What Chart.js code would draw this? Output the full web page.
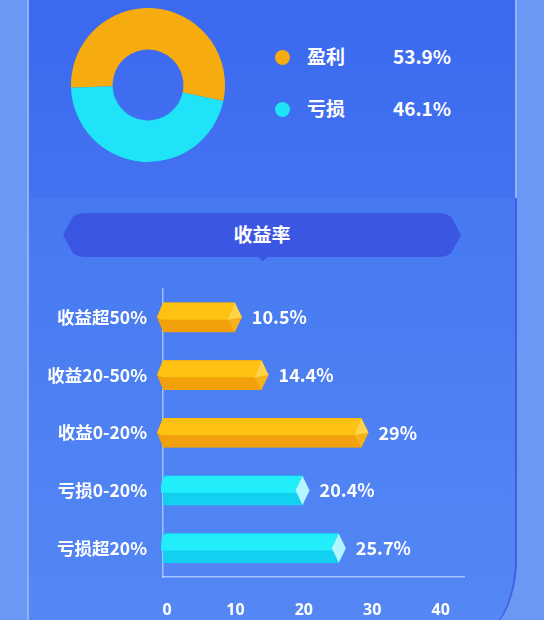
<!DOCTYPE html>
<html><head><meta charset="utf-8">
<script src="https://cdn.jsdelivr.net/npm/chart.js@4.4.1/dist/chart.umd.min.js"></script>
<style>
html,body{margin:0;padding:0;width:544px;height:620px;overflow:hidden;font-family:"Noto Sans CJK SC","Noto Sans",sans-serif;}
#bg{position:absolute;left:0;top:0;width:544px;height:620px;background:#6a98f4;}
#panelTop{position:absolute;left:27px;top:0;width:490px;height:200px;background:linear-gradient(180deg,#3b69ef 0%,#4372f1 100%);border-left:2px solid #8db4fb;border-right:2px solid #8db4fb;box-sizing:border-box;}
#panelBot{position:absolute;left:27px;top:198px;width:490px;height:440px;background:linear-gradient(180deg,#4678f1 0%,#4f82f3 60%,#5588f4 100%);border-left:2px solid #8db4fb;border-right:2px solid #3e5fe0;border-bottom-right-radius:45px 80px;box-sizing:border-box;}
#banner{position:absolute;left:63px;top:213px;width:398px;height:44px;background:#3c56e4;border-radius:22px;clip-path:polygon(3% 0,97% 0,100% 50%,97% 100%,3% 100%,0 50%);}
#notch{position:absolute;left:256px;top:255px;width:0;height:0;border-left:7px solid transparent;border-right:7px solid transparent;border-top:6px solid #3c56e4;}
#bannerText{position:absolute;left:63px;top:212px;width:398px;height:44px;line-height:44px;text-align:center;color:#fff;font-size:19px;font-weight:bold;}
.leg{position:absolute;color:#fff;font-size:19px;font-weight:bold;}
.dot{position:absolute;width:15px;height:15px;border-radius:50%;}
#pie{position:absolute;left:68px;top:5px;width:160px;height:160px;}
#bar{position:absolute;left:0;top:262px;width:544px;height:358px;}
</style></head>
<body>
<div id="bg"></div><div id="panelTop"></div><div id="panelBot"></div>
<div id="banner"></div><div id="notch"></div><div id="bannerText">收益率</div>
<div id="legend"></div>
<div id="pie"><canvas id="pieC" width="160" height="160"></canvas></div>
<div id="bar"><canvas id="barC" width="544" height="358"></canvas></div>
<script>
const pieLabels = ['盈利','亏损'];
const pieValues = [53.9, 46.1];
const pieColors = ['#f6ab0e','#1fe3f6'];

const barCategories = ['收益超50%','收益20-50%','收益0-20%','亏损0-20%','亏损超20%'];
const barValues = [10.5, 14.4, 29, 20.4, 25.7];
const barValueLabels = ['10.5%','14.4%','29%','20.4%','25.7%'];
const barKinds = ['gain','gain','gain','loss','loss'];
const xTicks = [0,10,20,30,40];

// legend (HTML text)
const leg = document.getElementById('legend');
pieLabels.forEach((l,i)=>{
  const y = 47 + i*52;
  const d = document.createElement('div'); d.className='dot';
  d.style.left='275px'; d.style.top=(y+3)+'px'; d.style.background=pieColors[i];
  leg.appendChild(d);
  const t = document.createElement('div'); t.className='leg'; t.textContent=l;
  t.style.left='307px'; t.style.top=(y-5)+'px'; leg.appendChild(t);
  const v = document.createElement('div'); v.className='leg'; v.textContent=pieValues[i].toFixed(1)+'%';
  v.style.left='393px'; v.style.top=(y-5)+'px'; leg.appendChild(v);
});

new Chart(document.getElementById('pieC'), {
  type:'doughnut',
  data:{labels:pieLabels, datasets:[{data:pieValues, backgroundColor:pieColors, borderWidth:0}]},
  options:{responsive:false, animation:false, rotation:268, cutout:'46%',
    layout:{padding:3},
    plugins:{legend:{display:false}, tooltip:{enabled:false}}}
});

const colors = {
  gain:{top:'#fec213', bot:'#f2a10b', cap1:'#ffd44a', cap2:'#f6b21a'},
  loss:{top:'#22eefb', bot:'#12d0ef', cap1:'#b4f6ff', cap2:'#8feaff'}
};

const barDeco = {
  id:'barDeco',
  afterDatasetsDraw(chart){
    const ctx = chart.ctx;
    const meta = chart.getDatasetMeta(0);
    meta.data.forEach((el,i)=>{
      const c = colors[barKinds[i]];
      const x0 = el.base - 2, x1 = el.x, yc = el.y, h = el.height;
      const yt = yc - h/2, yb = yc + h/2, ym = yt + h*0.58;
      ctx.save();
      if (barKinds[i]==='gain'){
        const p = 7;
        ctx.beginPath();
        ctx.moveTo(x0-4, yc); ctx.lineTo(x0+2, yt); ctx.lineTo(x1, yt); ctx.lineTo(x1+p, yc);
        ctx.lineTo(x1, yb); ctx.lineTo(x0+2, yb); ctx.closePath();
        ctx.fillStyle = c.bot; ctx.fill();
        ctx.beginPath();
        ctx.moveTo(x0-4, yc); ctx.lineTo(x0+2, yt); ctx.lineTo(x1, yt); ctx.lineTo(x1+p*0.6, ym-3);
        ctx.lineTo(x1-p, ym); ctx.lineTo(x0+1, ym); ctx.closePath();
        ctx.fillStyle = c.top; ctx.fill();
        ctx.beginPath();
        ctx.moveTo(x1, yt); ctx.lineTo(x1+p, yc); ctx.lineTo(x1, yb); ctx.lineTo(x1-p, ym); ctx.closePath();
        ctx.fillStyle = c.cap2; ctx.fill();
        ctx.beginPath();
        ctx.moveTo(x1, yt); ctx.lineTo(x1+p, yc); ctx.lineTo(x1-p, ym); ctx.closePath();
        ctx.fillStyle = c.cap1; ctx.fill();
      } else {
        const r = 5;
        ctx.beginPath();
        ctx.moveTo(x0+r, yt); ctx.lineTo(x1, yt); ctx.lineTo(x1, yb); ctx.lineTo(x0+r, yb);
        ctx.quadraticCurveTo(x0-2, yc, x0+r, yt); ctx.closePath();
        ctx.fillStyle = c.bot; ctx.fill();
        ctx.beginPath();
        ctx.moveTo(x0+r, yt); ctx.lineTo(x1, yt); ctx.lineTo(x1, ym); ctx.lineTo(x0, ym);
        ctx.quadraticCurveTo(x0-1, yt+3, x0+r, yt); ctx.closePath();
        ctx.fillStyle = c.top; ctx.fill();
        const dw = 7;
        ctx.beginPath();
        ctx.moveTo(x1, yt); ctx.lineTo(x1+dw, yc); ctx.lineTo(x1, yb); ctx.lineTo(x1-dw, yc); ctx.closePath();
        ctx.fillStyle = c.cap1; ctx.fill();
      }
      // value label
      ctx.fillStyle = '#ffffff';
      ctx.font = 'bold 18px "Noto Sans CJK SC","Noto Sans",sans-serif';
      ctx.textBaseline = 'middle'; ctx.textAlign='left';
      ctx.fillText(barValueLabels[i], x1 + 17, yc);
      ctx.restore();
    });
  }
};

new Chart(document.getElementById('barC'), {
  type:'bar',
  data:{labels:barCategories, datasets:[{data:barValues,
    backgroundColor: barKinds.map(k=>colors[k].bot), borderWidth:0, barThickness:29}]},
  options:{indexAxis:'y', responsive:false, animation:false,
    layout:{padding:{top:10, right:80, left:0, bottom:0}},
    plugins:{legend:{display:false}, tooltip:{enabled:false}},
    scales:{
      x:{min:0, max:44, position:'bottom',
        afterFit(s){ s.height = 43; },
        afterBuildTicks(s){ s.ticks = xTicks.map(v=>({value:v})); },
        grid:{display:false, drawTicks:false},
        border:{display:true, color:'rgba(200,220,255,0.7)', width:1.5},
        ticks:{color:'#ffffff', padding:24, labelOffset:4, font:{size:16, weight:'bold', family:'"Noto Sans", sans-serif'}}
      },
      y:{afterFit(s){ s.width = 163; },
        grid:{display:false, drawTicks:false},
        border:{display:true, color:'rgba(200,220,255,0.7)', width:1.5},
        ticks:{color:'#ffffff', padding:16, font:{size:17.5, weight:'bold', family:'"Noto Sans CJK SC", sans-serif'}}
      }
    }
  },
  plugins:[barDeco]
});
</script>
</body></html>
